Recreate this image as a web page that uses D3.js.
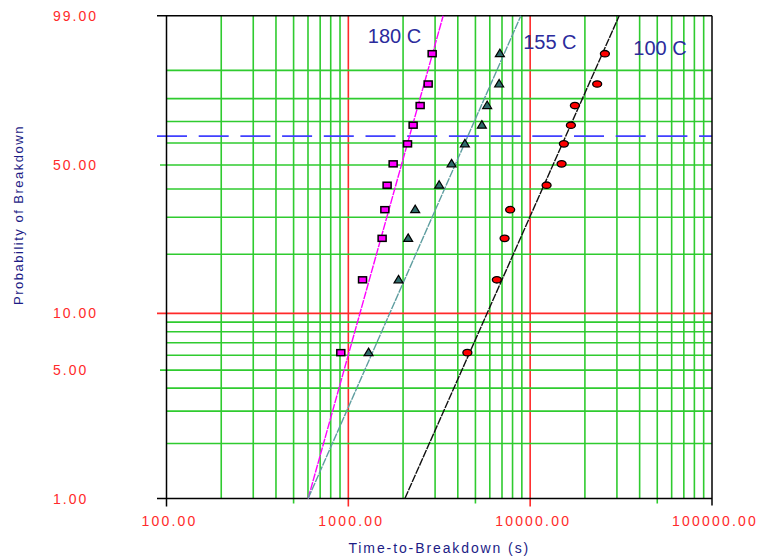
<!DOCTYPE html>
<html>
<head>
<meta charset="utf-8">
<script src="https://cdn.jsdelivr.net/npm/d3@7"></script>
<style>
  body { margin: 0; background: #fff; }
  svg { display: block; font-family: Arial, "Liberation Sans", sans-serif; }
</style>
</head>
<body>
<svg id="chart" width="768" height="558"></svg>
<script>
// cumulative probability (%) of each ranked breakdown, same ranks for all three series
const probabilities = [6.2, 14.9, 23.9, 32.5, 41.5, 50.5, 59.6, 68.3, 77.1, 85.6, 94.2];

// time-to-breakdown (s) per temperature
const times180 = [909, 1197, 1534, 1588, 1634, 1764, 2116, 2272, 2483, 2748, 2891];
const times155 = [1292, 1888, 2133, 2331, 3159, 3696, 4374, 5424, 5800, 6752, 6813];
const times100 = [4515, 6559, 7233, 7762, 12310, 14885, 15326, 16748, 17619, 23360, 25760];

// fitted Weibull lines, end points (time at 1% and at 99%)
const fitProbs = [1, 99];
const fit180 = [601, 3323];
const fit155 = [601, 8889];
const fit100 = [2046, 30870];

const seriesNames = ['180 C', '155 C', '100 C'];

// axis values
const xTickLabels = [100, 1000, 10000, 100000];
const yTickLabels = [1, 5, 10, 50, 99];
const yGrid = [2, 3, 4, 5, 6, 7, 8, 9, 10, 20, 30, 40, 50, 60, 70, 80, 90];
const characteristicLevel = 63.2;

// ---- layout ----
const margin = { top: 15.8, left: 166.5, right: 56, bottom: 59.5 };
const width = 768, height = 558;

const svg = d3.select('#chart');

const x = d3.scaleLog().domain([100, 100000]).range([margin.left, width - margin.right]);

// Weibull probability paper: linear in ln(-ln(1-F))
const weib = p => Math.log(-Math.log(1 - p / 100));
const yLin = d3.scaleLinear().domain([weib(1), weib(99)]).range([height - margin.bottom, margin.top]);
const y = p => yLin(weib(p));

const x0 = x.range()[0], x1 = x.range()[1];
const yb = y(1), yt = y(99);

// vertical grid: every 1..9 x decade
const xGrid = [];
for (let dec = 100; dec < 100000; dec *= 10) {
  for (let k = 2; k <= 10; k++) xGrid.push(dec * k);
}
const green = '#2fcb2f', red = '#ff2a2a';
const isDecade = d => /^10+$/.test(String(d));

const grid = svg.append('g');
grid.selectAll('line.v')
  .data(xGrid.filter(v => v < 100000))
  .enter().append('line')
  .attr('x1', d => x(d)).attr('x2', d => x(d))
  .attr('y1', yt)
  .attr('y2', d => {
    if (isDecade(d)) return yb + 8;
    if (String(d)[0] === '5') return yb + 5;
    return yb;
  })
  .attr('stroke', d => isDecade(d) ? red : green)
  .attr('stroke-width', 1.6);

grid.selectAll('line.h')
  .data(yGrid)
  .enter().append('line')
  .attr('y1', d => y(d)).attr('y2', d => y(d))
  .attr('x1', d => d === 10 ? x0 - 9.5 : (d === 5 || d === 50) ? x0 - 6.5 : x0)
  .attr('x2', x1)
  .attr('stroke', d => d === 10 ? red : green)
  .attr('stroke-width', 1.6);

// characteristic life line (63.2 %)
svg.append('line')
  .attr('x1', x0 - 9.5).attr('x2', x1)
  .attr('y1', y(characteristicLevel)).attr('y2', y(characteristicLevel))
  .attr('stroke', '#4040ff')
  .attr('stroke-width', 1.6)
  .attr('stroke-dasharray', '30,11.7');

// frame
const frame = svg.append('g').attr('stroke', '#000').attr('stroke-width', 1.5);
frame.append('line').attr('x1', x0 - 9.5).attr('x2', x1).attr('y1', yt).attr('y2', yt);
frame.append('line').attr('x1', x0 - 9.5).attr('x2', x1).attr('y1', yb).attr('y2', yb);
frame.append('line').attr('x1', x0).attr('x2', x0).attr('y1', yt).attr('y2', yb + 8);
frame.append('line').attr('x1', x1).attr('x2', x1).attr('y1', yt).attr('y2', yb + 7);

// ---- fit lines ----
const fits = [
  { times: fit180, color: '#ff00ff' },
  { times: fit155, color: '#5f9ea0' },
  { times: fit100, color: '#111111' }
];
const line = d3.line().x(d => x(d[0])).y(d => y(d[1]));
svg.selectAll('path.fit')
  .data(fits)
  .enter().append('path')
  .attr('d', f => line(f.times.map((t, i) => [t, fitProbs[i]])))
  .attr('fill', 'none')
  .attr('stroke', f => f.color)
  .attr('stroke-width', 1.4)
  .attr('stroke-dasharray', '8,1');

// ---- markers ----
const pts = times => times.map((t, i) => ({ t, p: probabilities[i] }));

svg.selectAll('rect.s180')
  .data(pts(times180))
  .enter().append('rect')
  .attr('x', d => x(d.t) - 4).attr('y', d => y(d.p) - 3)
  .attr('width', 8).attr('height', 6)
  .attr('fill', '#ff00ff').attr('stroke', '#000').attr('stroke-width', 1.5);

svg.selectAll('path.s155')
  .data(pts(times155))
  .enter().append('path')
  .attr('transform', d => `translate(${x(d.t)},${y(d.p)})`)
  .attr('d', 'M0,-4.5L4.5,3L-4.5,3Z')
  .attr('fill', '#2f6b6b').attr('stroke', '#000').attr('stroke-width', 1.2);

svg.selectAll('ellipse.s100')
  .data(pts(times100))
  .enter().append('ellipse')
  .attr('cx', d => x(d.t)).attr('cy', d => y(d.p))
  .attr('rx', 4.5).attr('ry', 3.2)
  .attr('fill', '#ff0000').attr('stroke', '#000').attr('stroke-width', 1.3);

// ---- series labels (anchored in data space) ----
const labelSpots = [[1280, 96.2], [9150, 95.1], [36900, 93.9]];
svg.selectAll('text.series')
  .data(seriesNames)
  .enter().append('text')
  .attr('x', (d, i) => x(labelSpots[i][0]))
  .attr('y', (d, i) => y(labelSpots[i][1]))
  .attr('fill', '#2b2b9c')
  .attr('font-size', 20)
  .text(d => d);

// ---- tick labels ----
svg.selectAll('text.yt')
  .data(yTickLabels)
  .enter().append('text')
  .attr('x', 53)
  .attr('y', d => y(d) + 5)
  .attr('fill', red)
  .attr('font-size', 14)
  .attr('letter-spacing', 2)
  .text(d => d.toFixed(2));

svg.selectAll('text.xt')
  .data(xTickLabels)
  .enter().append('text')
  .attr('x', d => x(d) + 3)
  .attr('y', yb + 27)
  .attr('text-anchor', 'middle')
  .attr('fill', red)
  .attr('font-size', 14)
  .attr('letter-spacing', 2.2)
  .text(d => d.toFixed(2));

// ---- axis titles ----
svg.append('text')
  .attr('x', (x0 + x1) / 2)
  .attr('y', 553)
  .attr('text-anchor', 'middle')
  .attr('fill', '#1c1c86')
  .attr('font-size', 14)
  .attr('letter-spacing', 1.9)
  .text('Time-to-Breakdown (s)');

svg.append('text')
  .attr('transform', 'translate(23,215) rotate(-90)')
  .attr('text-anchor', 'middle')
  .attr('fill', '#1c1c86')
  .attr('font-size', 13)
  .attr('letter-spacing', 1.5)
  .text('Probability of Breakdown');
</script>
</body>
</html>
